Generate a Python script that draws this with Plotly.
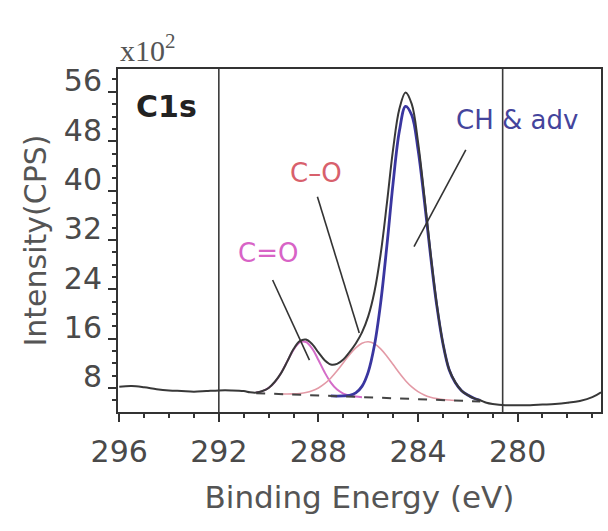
import plotly.graph_objects as go

# ---------------- data ----------------
# full measured envelope (binding energy in eV, intensity in x10^2 CPS)
env_energy = [296.0, 295.5, 295.0, 294.5, 294.0, 293.5, 293.0, 292.5, 292.0, 291.5, 291.0, 290.75,
              290.5, 290.25, 290.0, 289.75, 289.5, 289.25, 289.0, 288.75, 288.5, 288.25, 288.0,
              287.75, 287.5, 287.25, 287.0, 286.75, 286.5, 286.25, 286.0, 285.75, 285.5, 285.25,
              285.0, 284.75, 284.5, 284.25, 284.0, 283.75, 283.5, 283.25, 283.0, 282.75, 282.5,
              282.25, 282.0, 281.75, 281.5, 281.25, 281.0, 280.5, 280.0, 279.5, 279.0, 278.5,
              278.0, 277.5, 277.0, 276.65]
env_counts = [8.2, 8.3, 8.1, 7.8, 7.6, 7.5, 7.4, 7.5, 7.6, 7.6, 7.5, 7.3,
              7.25, 7.5, 8.0, 9.0, 10.4, 12.3, 14.3, 15.6, 15.85, 15.1, 13.75,
              12.5, 11.8, 11.9, 12.6, 13.8, 15.2, 17.0, 19.6, 23.6, 29.7, 37.9,
              46.7, 53.2, 55.9, 54.0, 47.9, 39.3, 30.0, 21.7, 15.3, 11.0, 8.9,
              7.56, 6.85, 6.32, 6.0, 5.6, 5.4, 5.2, 5.2, 5.2, 5.3, 5.4,
              5.6, 5.9, 6.5, 7.3]

# fit grid for background and components
fit_energy = [290.5, 290.25, 290.0, 289.75, 289.5, 289.25, 289.0, 288.75, 288.5, 288.25, 288.0,
              287.75, 287.5, 287.25, 287.0, 286.75, 286.5, 286.25, 286.0, 285.75, 285.5, 285.25,
              285.0, 284.75, 284.5, 284.25, 284.0, 283.75, 283.5, 283.25, 283.0, 282.75, 282.5,
              282.25, 282.0, 281.75, 281.5]
background = [7.15, 7.11, 7.08, 7.04, 7.0, 6.96, 6.93, 6.89, 6.85, 6.81, 6.78,
              6.74, 6.7, 6.66, 6.63, 6.59, 6.55, 6.51, 6.48, 6.44, 6.4, 6.36,
              6.33, 6.29, 6.25, 6.21, 6.18, 6.14, 6.1, 6.06, 6.03, 5.99, 5.95,
              5.91, 5.88, 5.84, 5.8]

# C=O component (incl. background)
co2_energy = [290.5, 290.25, 290.0, 289.75, 289.5, 289.25, 289.0, 288.75, 288.5, 288.25, 288.0,
              287.75, 287.5, 287.25, 287.0, 286.75, 286.5, 286.25]
co2_counts = [7.29, 7.49, 8.0, 8.95, 10.43, 12.32, 14.17, 15.37, 15.45, 14.37, 12.53,
              10.53, 8.87, 7.73, 7.09, 6.76, 6.6, 6.51]

# C–O component (incl. background)
co1_energy = [289.5, 289.25, 289.0, 288.75, 288.5, 288.25, 288.0, 287.75, 287.5, 287.25, 287.0,
              286.75, 286.5, 286.25, 286.0, 285.75, 285.5, 285.25, 285.0, 284.75, 284.5,
              284.25, 284.0, 283.75, 283.5, 283.25, 283.0, 282.75, 282.5]
co1_counts = [7.02, 7.01, 7.03, 7.1, 7.25, 7.53, 8.0, 8.69, 9.62, 10.78, 12.09,
              13.38, 14.49, 15.23, 15.48, 15.16, 14.34, 13.15, 11.79, 10.41, 9.17,
              8.16, 7.4, 6.86, 6.5, 6.27, 6.13, 6.04, 5.97]

# CH & adventitious carbon component (incl. background)
ch_energy = [287.5, 287.25, 287.0, 286.75, 286.5, 286.25, 286.0, 285.75, 285.5, 285.25,
             285.0, 284.75, 284.5, 284.25, 284.0, 283.75, 283.5, 283.25, 283.0, 282.75,
             282.5, 282.25, 282.0, 281.75, 281.5]
ch_counts = [6.7, 6.68, 6.7, 6.8, 7.2, 8.25, 10.57, 14.91, 21.8, 31.06,
             41.23, 49.59, 53.65, 52.21, 46.68, 38.54, 29.6, 21.46, 15.21, 10.95,
             8.85, 7.56, 6.85, 6.32, 5.99]

marker_lines = [292.0, 280.6]
x_ticks = [296, 292, 288, 284, 280]
y_ticks = [8, 16, 24, 32, 40, 48, 56]

# ---------------- figure ----------------
fig = go.Figure()

fig.add_trace(go.Scatter(x=co2_energy, y=co2_counts, mode="lines",
                         line=dict(color="#d46cc8", width=2, shape="spline"), name="C=O"))
fig.add_trace(go.Scatter(x=co1_energy, y=co1_counts, mode="lines",
                         line=dict(color="#e39aa6", width=1.6, shape="spline"), name="C–O"))
fig.add_trace(go.Scatter(x=ch_energy, y=ch_counts, mode="lines",
                         line=dict(color="#3a36a0", width=2.8, shape="spline"), name="CH & adv"))
fig.add_trace(go.Scatter(x=fit_energy, y=background, mode="lines",
                         line=dict(color="#444444", width=2, dash="dash"), name="background"))
fig.add_trace(go.Scatter(x=env_energy, y=env_counts, mode="lines",
                         line=dict(color="#383838", width=2, shape="spline"), name="C1s"))

for xv in marker_lines:
    fig.add_shape(type="line", xref="x", yref="paper", x0=xv, x1=xv, y0=0, y1=1,
                  line=dict(color="#3a3a3a", width=1.6))

# leader lines for labels
leaders = [
    ((289.84, 25.5), (288.36, 12.5)),
    ((288.04, 39.0), (286.36, 16.9)),
    ((282.08, 46.6), (284.16, 30.9)),
]
for (x0, y0), (x1, y1) in leaders:
    fig.add_shape(type="line", xref="x", yref="y", x0=x0, y0=y0, x1=x1, y1=y1,
                  line=dict(color="#333333", width=1.6))

fig.add_annotation(x=290.04, y=29.9, text="C=O", showarrow=False,
                   font=dict(size=26, color="#d863c6", family="DejaVu Sans"))
fig.add_annotation(x=288.08, y=42.9, text="C–O", showarrow=False,
                   font=dict(size=26, color="#d8606c", family="DejaVu Sans"))
fig.add_annotation(x=280.04, y=51.5, text="CH & adv", showarrow=False,
                   font=dict(size=26, color="#44449c", family="DejaVu Sans"))
fig.add_annotation(x=295.4, y=53.6, text="<b>C1s</b>", showarrow=False, xanchor="left",
                   font=dict(size=30, color="#222222", family="DejaVu Sans"))
fig.add_annotation(xref="paper", yref="paper", x=0.0, y=1.0, xanchor="left", yanchor="bottom",
                   text="x10<sup>2</sup>", showarrow=False,
                   font=dict(size=30, color="#555555", family="Liberation Serif"))

axis_common = dict(showline=True, linecolor="#333333", linewidth=2, mirror=True,
                   showgrid=False, zeroline=False, ticks="outside", tickwidth=2,
                   tickcolor="#333333", ticklen=8,
                   tickfont=dict(size=30, color="#4a4a4a", family="DejaVu Sans"))

fig.update_xaxes(range=[296.05, 276.65], tickvals=x_ticks, ticklabelstandoff=4,
                 minor=dict(dtick=1, tick0=296, ticks="outside", ticklen=4, tickwidth=2,
                            tickcolor="#333333"),
                 title=dict(text="Binding Energy (eV)", standoff=18,
                            font=dict(size=31, color="#555555", family="DejaVu Sans")),
                 **axis_common)
fig.update_yaxes(range=[4.1, 59.7], tickvals=y_ticks, ticklabelshift=-11,
                 minor=dict(dtick=2, tick0=0, ticks="outside", ticklen=4, tickwidth=2,
                            tickcolor="#333333"),
                 title=dict(text="Intensity(CPS)", standoff=8,
                            font=dict(size=30, color="#555555", family="DejaVu Sans")),
                 **axis_common)

fig.update_layout(width=608, height=531, margin=dict(l=118, r=5, t=69, b=119),
                  plot_bgcolor="white", paper_bgcolor="white", showlegend=False)

fig.write_html("out.html")
